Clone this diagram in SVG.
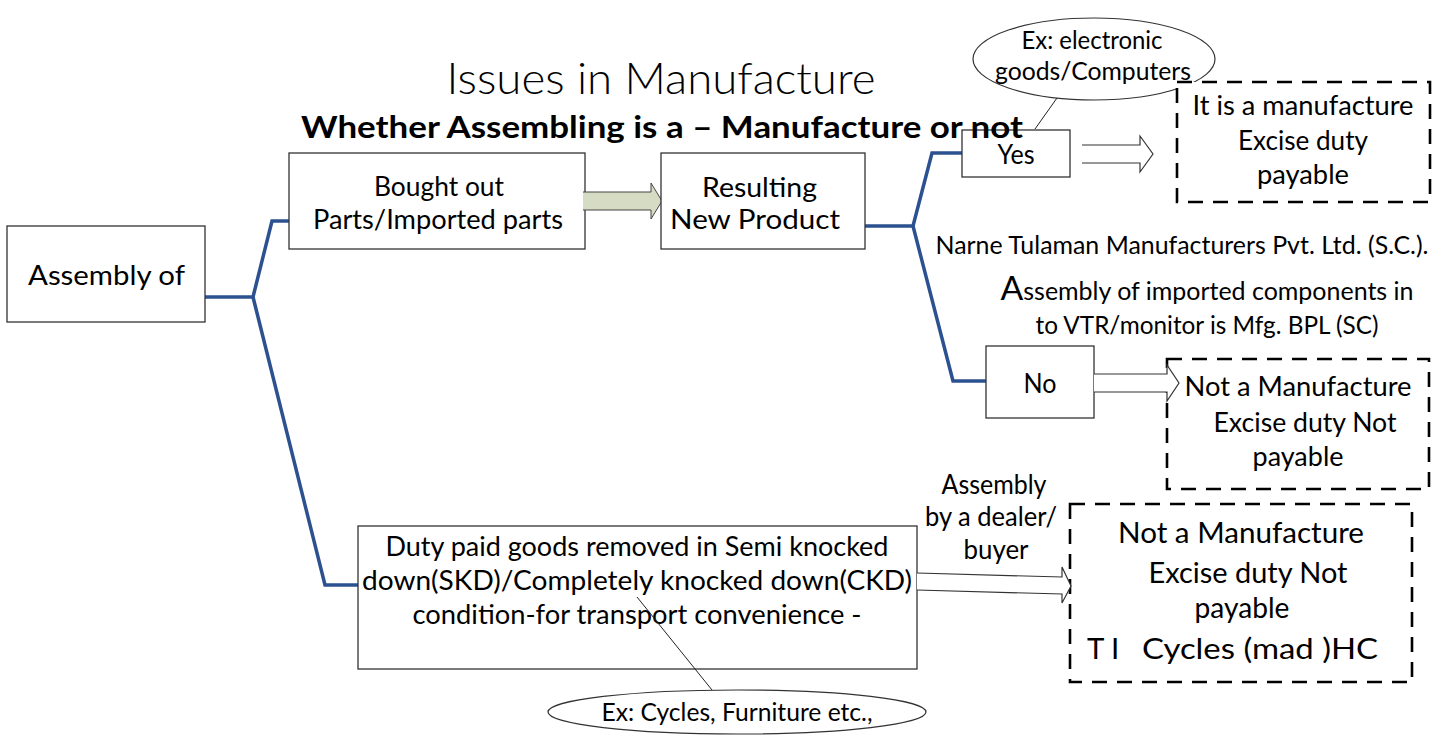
<svg xmlns="http://www.w3.org/2000/svg" width="1446" height="736" viewBox="0 0 1446 736">
<style>
text{font-family:Lato,"Open Sans","Liberation Sans",sans-serif;fill:#000;text-anchor:middle}
.t{font-size:27px}
.s{font-size:24.5px}
.big{font-size:29.5px}
.title{font-size:43px;font-weight:300}
.sub{font-size:30px;font-weight:700}
.box{fill:#fff;stroke:#333;stroke-width:1.3}
.dash{fill:#fff;stroke:#000;stroke-width:2.6;stroke-dasharray:15 10}
.conn{fill:none;stroke:#2c5190;stroke-width:3.5;stroke-linejoin:miter}
.arr{fill:#fff;stroke:#333;stroke-width:1.2}
.thin{fill:none;stroke:#222;stroke-width:1}
.ell{fill:#fff;stroke:#333;stroke-width:1.2}
</style>
<rect width="1446" height="736" fill="#fff"/>

<g id="connectors">
<polyline class="conn" points="205,297 253,297 272,221 292,221"/>
<polyline class="conn" points="253,297 325,585 358,585"/>
<polyline class="conn" points="865,226 913,226 932,153 962,153"/>
<polyline class="conn" points="913,226 953,381 986,381"/>
<line class="thin" x1="1057" y1="98" x2="1035" y2="129"/>
</g>

<g id="node-assembly">
<rect class="box" x="7" y="226" width="198" height="96"/>
<text class="t" x="106.5" y="285" font-size="29" textLength="157" lengthAdjust="spacingAndGlyphs">Assembly of</text>
</g>

<g id="node-bought">
<rect class="box" x="289" y="153" width="296" height="96"/>
<text class="t" x="439" y="196" textLength="130" lengthAdjust="spacingAndGlyphs">Bought out</text>
<text class="t" x="438" y="229" textLength="250" lengthAdjust="spacingAndGlyphs">Parts/Imported parts</text>
</g>

<g id="arrow-green">
<path d="M583,192 H651 V183 L662,201 L651,219 V210 H583 Z" fill="#d6dbc3" stroke="none"/>
<path d="M583,192 H651 V183 L662,201 L651,219 V210 H583" fill="none" stroke="#444" stroke-width="1"/>
</g>

<g id="node-resulting">
<rect class="box" x="661" y="153" width="204" height="96"/>
<text class="t" x="759.5" y="197" font-size="28.5" textLength="115" lengthAdjust="spacingAndGlyphs">Resulting</text>
<text class="t" x="755" y="229" font-size="28.5" textLength="170" lengthAdjust="spacingAndGlyphs">New Product</text>
</g>

<g id="node-ellipse-top">
<ellipse class="ell" cx="1094" cy="59" rx="121" ry="41"/>
<text class="s" x="1092" y="49" textLength="141" lengthAdjust="spacingAndGlyphs">Ex: electronic</text>
<text class="s" x="1093" y="80" textLength="196" lengthAdjust="spacingAndGlyphs">goods/Computers</text>
</g>

<g id="node-yes">
<rect class="box" x="962" y="130" width="108" height="47"/>
<text class="t" x="1016" y="164" textLength="37" lengthAdjust="spacingAndGlyphs">Yes</text>
</g>

<g id="node-manufacture">
<rect class="dash" x="1177" y="82" width="253" height="120"/>
<text class="t" x="1303" y="115" textLength="221" lengthAdjust="spacingAndGlyphs">It is a manufacture</text>
<text class="t" x="1303" y="150" textLength="130" lengthAdjust="spacingAndGlyphs">Excise duty</text>
<text class="t" x="1303" y="184" textLength="92" lengthAdjust="spacingAndGlyphs">payable</text>
</g>

<g id="arrow-yes">
<path class="arr" d="M1082,145 H1140 V136 L1153,154 L1140,172 V163 H1082"/>
</g>

<g id="notes">
<text class="s" x="1182" y="254" textLength="493" lengthAdjust="spacingAndGlyphs">Narne Tulaman Manufacturers Pvt. Ltd. (S.C.).</text>
<text class="s" x="1207" y="300" textLength="413" lengthAdjust="spacingAndGlyphs"><tspan font-size="33">A</tspan>ssembly of imported components in</text>
<text class="s" x="1207" y="334" textLength="343" lengthAdjust="spacingAndGlyphs">to VTR/monitor is Mfg. BPL (SC)</text>
</g>

<g id="node-no">
<rect class="box" x="986" y="346" width="108" height="72"/>
<text class="t" x="1040" y="393" textLength="33" lengthAdjust="spacingAndGlyphs">No</text>
</g>

<g id="node-not-manufacture">
<rect class="dash" x="1167" y="359" width="262" height="130"/>
<text class="t" x="1298" y="396" textLength="227" lengthAdjust="spacingAndGlyphs">Not a Manufacture</text>
<text class="t" x="1305" y="432" textLength="183" lengthAdjust="spacingAndGlyphs">Excise duty Not</text>
<text class="t" x="1298" y="466" textLength="91" lengthAdjust="spacingAndGlyphs">payable</text>
</g>

<g id="arrow-no">
<path class="arr" d="M1094,374 H1167 V365 L1179,383 L1167,401 V392 H1094"/>
</g>

<g id="node-skd">
<rect class="box" x="358" y="526" width="559" height="143"/>
<text class="t" x="637" y="556" textLength="503" lengthAdjust="spacingAndGlyphs">Duty paid goods removed in Semi knocked</text>
<text class="t" x="637" y="590" textLength="550" lengthAdjust="spacingAndGlyphs">down(SKD)/Completely knocked down(CKD)</text>
<text class="t" x="637" y="624" textLength="449" lengthAdjust="spacingAndGlyphs">condition-for transport convenience -</text>
</g>

<g id="label-dealer">
<text class="t" x="994" y="494" textLength="105" lengthAdjust="spacingAndGlyphs">Assembly</text>
<text class="t" x="991" y="526" textLength="132" lengthAdjust="spacingAndGlyphs">by a dealer/</text>
<text class="t" x="996" y="559" textLength="65" lengthAdjust="spacingAndGlyphs">buyer</text>
</g>

<g id="node-not-manufacture-2">
<rect class="dash" x="1070" y="504" width="342" height="178"/>
<text class="big" x="1241" y="543" textLength="246" lengthAdjust="spacingAndGlyphs">Not a Manufacture</text>
<text class="big" x="1248" y="583" textLength="199" lengthAdjust="spacingAndGlyphs">Excise duty Not</text>
<text class="big" x="1242" y="618" textLength="95" lengthAdjust="spacingAndGlyphs">payable</text>
<text class="big" x="1087" y="659" style="text-anchor:start">T I</text>
<text class="big" x="1142" y="659" style="text-anchor:start" textLength="236" lengthAdjust="spacingAndGlyphs">Cycles (mad )HC</text>
</g>

<g id="arrow-skd">
<path class="arr" d="M917,573 L1062,577 V567 L1071,586 L1062,603 V594 L917,590"/>
</g>

<g id="node-ellipse-bottom">
<line class="thin" x1="637" y1="597" x2="712" y2="690"/>
<ellipse class="ell" cx="737" cy="712" rx="189" ry="22"/>
<text class="s" x="737" y="721" textLength="271" lengthAdjust="spacingAndGlyphs">Ex: Cycles, Furniture etc.,</text>
</g>

<g id="title">
<text class="title" x="661" y="94" textLength="429" lengthAdjust="spacingAndGlyphs">Issues in Manufacture</text>
<text class="sub" x="662" y="138" textLength="722" lengthAdjust="spacingAndGlyphs">Whether Assembling is a – Manufacture or not</text>
</g>
</svg>
